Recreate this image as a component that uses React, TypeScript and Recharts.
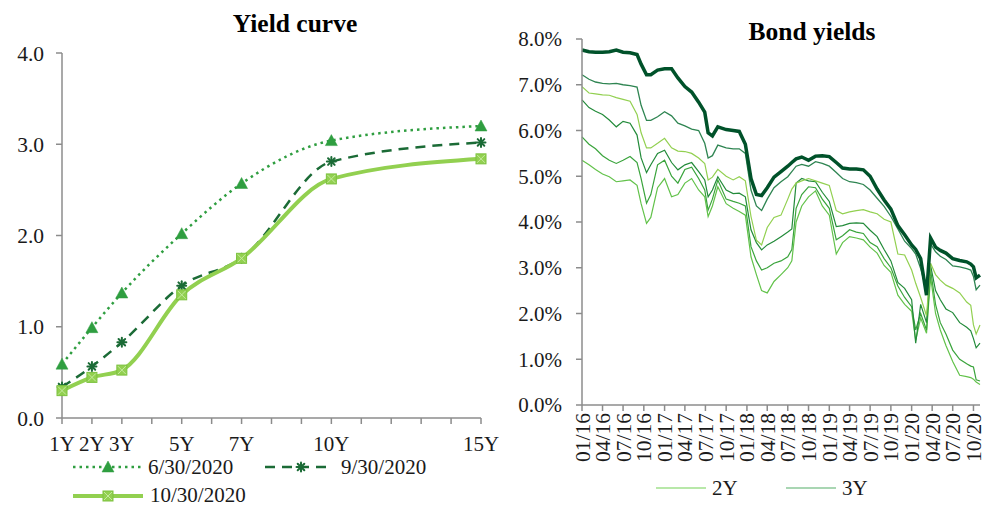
import React from 'react';
import { LineChart, Line, XAxis, YAxis } from 'recharts';

const FONT = '"Liberation Serif", "Times New Roman", serif';
const AXIS = '#8c8c8c';
const TXT = '#1a1a1a';
const FS = 21;

// ---------- Left chart: yield curve ----------
const tenors = [1, 2, 3, 5, 7, 10, 15];
const tenorLabels = ['1Y', '2Y', '3Y', '5Y', '7Y', '10Y', '15Y'];
const tenorTickYears = [1, 2, 3, 4, 5, 6, 7, 8, 9, 10, 11, 12, 13, 14, 15];
const curveJun = [0.59, 0.99, 1.37, 2.02, 2.57, 3.04, 3.2];
const curveSep = [0.34, 0.565, 0.83, 1.45, 1.75, 2.81, 3.02];
const curveOct = [0.3, 0.445, 0.525, 1.35, 1.75, 2.62, 2.84];
const curveNames = ['6/30/2020', '9/30/2020', '10/30/2020'];
const curveTicks = [0, 1, 2, 3, 4];

// ---------- Right chart: bond yields ----------
const dates = [
  '2016-01-01', '2016-02-01', '2016-03-01', '2016-04-01', '2016-05-01', '2016-06-01', '2016-07-01', '2016-08-01', '2016-09-01',
  '2016-09-19', '2016-10-13',
  '2016-11-01', '2016-12-01', '2017-01-01', '2017-02-01', '2017-03-01', '2017-04-01', '2017-05-01', '2017-06-01',
  '2017-06-28', '2017-07-13',
  '2017-08-01', '2017-08-25',
  '2017-10-01', '2017-11-01', '2017-11-28', '2017-12-25',
  '2018-01-19', '2018-02-12', '2018-03-07',
  '2018-04-01', '2018-05-01', '2018-06-01', '2018-07-01',
  '2018-07-19', '2018-08-07',
  '2018-09-01', '2018-10-01', '2018-11-01', '2018-12-01', '2019-01-01', '2019-02-01', '2019-03-01', '2019-04-01', '2019-05-01',
  '2019-06-01', '2019-07-01', '2019-08-01', '2019-09-01', '2019-10-01', '2019-11-01', '2019-12-01', '2020-01-01',
  '2020-01-19', '2020-02-10', '2020-03-07', '2020-03-25', '2020-04-16', '2020-05-07',
  '2020-06-01', '2020-07-01', '2020-08-01', '2020-09-01',
  '2020-09-19', '2020-10-01', '2020-10-13', '2020-10-30',
];
const y15 = [7.76, 7.72, 7.71, 7.71, 7.72, 7.76, 7.71, 7.7, 7.66, 7.45, 7.22, 7.22, 7.32, 7.35, 7.35, 7.15, 6.96, 6.84, 6.62, 6.4, 5.95, 5.88, 6.08, 6.02, 6.0, 5.98, 5.7, 4.95, 4.6, 4.58, 4.75, 4.98, 5.1, 5.22, 5.3, 5.38, 5.42, 5.35, 5.44, 5.45, 5.43, 5.3, 5.18, 5.16, 5.16, 5.14, 5.0, 4.72, 4.48, 4.28, 3.92, 3.72, 3.5, 3.4, 3.2, 2.4, 3.65, 3.45, 3.38, 3.32, 3.2, 3.16, 3.13, 3.08, 3.02, 2.78, 2.84];
const y10 = [7.22, 7.12, 7.06, 7.03, 7.02, 7.03, 7.0, 6.98, 6.95, 6.55, 6.22, 6.22, 6.3, 6.41, 6.32, 6.16, 6.1, 6.03, 6.0, 5.72, 5.4, 5.45, 5.68, 5.62, 5.6, 5.6, 5.5, 4.7, 4.35, 4.25, 4.5, 4.75, 4.88, 4.99, 5.1, 5.22, 5.26, 5.22, 5.32, 5.28, 5.22, 5.08, 4.95, 4.88, 4.86, 4.82, 4.7, 4.52, 4.34, 4.12, 3.85, 3.58, 3.42, 3.3, 2.98, 2.5, 3.52, 3.35, 3.25, 3.18, 3.04, 3.02, 2.98, 2.95, 2.81, 2.52, 2.62];
const y7 = [6.96, 6.82, 6.8, 6.78, 6.77, 6.72, 6.68, 6.64, 6.35, 5.95, 5.62, 5.62, 5.72, 5.83, 5.62, 5.55, 5.54, 5.5, 5.4, 5.28, 4.92, 4.98, 5.15, 5.0, 4.92, 4.99, 4.9, 4.12, 3.6, 3.5, 3.88, 4.1, 4.15, 4.5, 4.72, 4.85, 4.9, 4.95, 4.9, 4.85, 4.8, 4.25, 4.18, 4.22, 4.25, 4.27, 4.22, 4.18, 4.06, 4.0, 3.3, 3.28, 2.95, 2.66, 2.35, 1.95, 3.1, 2.85, 2.73, 2.62, 2.55, 2.45, 2.25, 2.18, 1.75, 1.55, 1.75];
const y5 = [6.67, 6.5, 6.42, 6.35, 6.23, 6.08, 6.2, 6.16, 5.9, 5.4, 5.08, 5.25, 5.5, 5.57, 5.3, 5.14, 5.25, 5.3, 5.1, 4.92, 4.55, 4.7, 4.99, 4.7, 4.62, 4.63, 4.55, 3.83, 3.55, 3.39, 3.5, 3.58, 3.68, 3.78, 3.85, 4.85, 4.95, 4.9, 4.88, 4.65, 4.45, 3.9, 3.92, 3.97, 3.98, 3.97, 3.82, 3.68, 3.4, 3.15, 2.68, 2.55, 2.3, 1.35, 2.2, 1.8, 3.05, 2.5, 2.3, 2.1, 2.02, 1.8, 1.7, 1.62, 1.45, 1.25, 1.35];
const y3 = [5.86, 5.7, 5.6, 5.45, 5.35, 5.28, 5.35, 5.43, 5.3, 4.95, 4.41, 4.6, 5.25, 5.35, 5.0, 4.85, 5.15, 5.2, 4.95, 4.7, 4.26, 4.5, 4.92, 4.5, 4.45, 4.41, 4.35, 3.46, 3.15, 2.95, 3.0, 3.1, 3.15, 3.24, 3.4, 4.3, 4.6, 4.77, 4.75, 4.5, 4.3, 3.61, 3.7, 3.83, 3.78, 3.75, 3.55, 3.46, 3.2, 3.0, 2.6, 2.35, 2.15, 1.64, 2.0, 1.64, 2.95, 2.2, 1.8, 1.55, 1.2, 1.0, 0.9, 0.85, 0.83, 0.55, 0.525];
const y2 = [5.35, 5.25, 5.15, 5.05, 4.99, 4.88, 4.9, 4.92, 4.8, 4.4, 3.97, 4.1, 4.75, 4.95, 4.55, 4.6, 4.85, 4.95, 4.7, 4.55, 4.12, 4.35, 4.77, 4.4, 4.3, 4.23, 4.15, 3.24, 2.85, 2.5, 2.45, 2.7, 2.85, 3.0, 3.15, 4.0, 4.35, 4.55, 4.68, 4.35, 4.15, 3.3, 3.55, 3.68, 3.65, 3.61, 3.45, 3.32, 3.05, 2.9, 2.4, 2.2, 2.05, 1.42, 1.9, 1.57, 2.8, 2.0, 1.64, 1.3, 0.95, 0.65, 0.62, 0.6, 0.565, 0.5, 0.45];
const quarterTicks = [
  '2016-01-01', '2016-04-01', '2016-07-01', '2016-10-01', '2017-01-01', '2017-04-01', '2017-07-01', '2017-10-01',
  '2018-01-01', '2018-04-01', '2018-07-01', '2018-10-01', '2019-01-01', '2019-04-01', '2019-07-01', '2019-10-01',
  '2020-01-01', '2020-04-01', '2020-07-01', '2020-10-01',
];
const yieldTicks = [0, 1, 2, 3, 4, 5, 6, 7, 8];
const legendNames = ['2Y', '3Y'];

const toTs = (s: string) => {
  const [y, m, d] = s.split('-').map(Number);
  return Date.UTC(y, m - 1, d);
};

const curveData = tenors.map((t, i) => ({ tenor: t, jun: curveJun[i], sep: curveSep[i], oct: curveOct[i] }));
const yieldData = dates.map((d, i) => ({
  t: toTs(d), y2: y2[i], y3: y3[i], y5: y5[i], y7: y7[i], y10: y10[i], y15: y15[i],
}));
const quarterTs = quarterTicks.map(toTs);

const C_JUN = '#2f9e40';
const C_SEP = '#1b6b36';
const C_OCT = '#92d050';

const tri = (cx: number, cy: number, key?: any) => (
  <polygon key={key} points={`${cx},${cy - 6} ${cx - 6},${cy + 5} ${cx + 6},${cy + 5}`} fill={C_JUN} stroke={C_JUN} strokeWidth={0.5} />
);
const star = (cx: number, cy: number, key?: any) => (
  <g key={key} stroke={C_SEP} strokeWidth={2} strokeLinecap="round">
    <line x1={cx - 4.5} y1={cy} x2={cx + 4.5} y2={cy} />
    <line x1={cx} y1={cy - 4.5} x2={cx} y2={cy + 4.5} />
    <line x1={cx - 3.3} y1={cy - 3.3} x2={cx + 3.3} y2={cy + 3.3} />
    <line x1={cx - 3.3} y1={cy + 3.3} x2={cx + 3.3} y2={cy - 3.3} />
  </g>
);
const sq = (cx: number, cy: number, key?: any) => (
  <g key={key}>
    <rect x={cx - 5} y={cy - 5} width={10} height={10} fill={C_OCT} stroke="#7cc23e" strokeWidth={1} />
    <line x1={cx - 4} y1={cy - 4} x2={cx + 4} y2={cy + 4} stroke="#c4ea9e" strokeWidth={1} />
    <line x1={cx - 4} y1={cy + 4} x2={cx + 4} y2={cy - 4} stroke="#c4ea9e" strokeWidth={1} />
  </g>
);

const TenorTick = (props: any) => {
  const { x, y, payload } = props;
  const idx = tenors.indexOf(payload.value);
  if (idx < 0) return <g />;
  return (
    <text x={x} y={y} dy="0.71em" textAnchor="middle" fontSize={FS} fontFamily={FONT} fill={TXT}>
      {tenorLabels[idx]}
    </text>
  );
};

const DateTick = (props: any) => {
  const { x, y, payload } = props;
  const d = new Date(payload.value);
  const label = String(d.getUTCMonth() + 1).padStart(2, '0') + '/' + String(d.getUTCFullYear() % 100).padStart(2, '0');
  return (
    <text x={x} y={y} transform={`rotate(-90 ${x} ${y})`} textAnchor="end" dy="0.35em" fontSize={21.5} fontFamily={FONT} fill={TXT}>
      {label}
    </text>
  );
};

export default function App() {
  return (
    <div style={{ position: 'fixed', left: 0, top: 0, width: 994, height: 506, background: '#fff', fontFamily: FONT }}>
      <div style={{ position: 'absolute', left: 0, top: 0 }}>
        <LineChart width={500} height={506} data={curveData} margin={{ top: 53, right: 19, bottom: 0, left: 2 }}>
          <XAxis
            dataKey="tenor"
            type="number"
            domain={[1, 15]}
            ticks={tenorTickYears}
            interval={0}
            height={88}
            tickSize={6}
            tickMargin={12}
            axisLine={{ stroke: AXIS, strokeWidth: 1.5 }}
            tickLine={{ stroke: AXIS, strokeWidth: 1.5 }}
            tick={<TenorTick />}
          />
          <YAxis
            type="number"
            domain={[0, 4]}
            ticks={curveTicks}
            width={60}
            tickSize={6}
            tickMargin={12}
            axisLine={{ stroke: AXIS, strokeWidth: 1.5 }}
            tickLine={{ stroke: AXIS, strokeWidth: 1.5 }}
            tickFormatter={(v: number) => v.toFixed(1)}
            tick={{ fill: TXT, fontSize: 21.5, fontFamily: FONT }}
          />
          <Line type="monotone" dataKey="jun" stroke={C_JUN} strokeWidth={2.5} strokeDasharray="2.5 4" isAnimationActive={false}
            dot={(p: any) => tri(p.cx, p.cy, p.key)} activeDot={false} />
          <Line type="monotone" dataKey="sep" stroke={C_SEP} strokeWidth={2.5} strokeDasharray="10 7" isAnimationActive={false}
            dot={(p: any) => star(p.cx, p.cy, p.key)} activeDot={false} />
          <Line type="monotone" dataKey="oct" stroke={C_OCT} strokeWidth={4} isAnimationActive={false}
            dot={(p: any) => sq(p.cx, p.cy, p.key)} activeDot={false} />
        </LineChart>
      </div>
      <div style={{ position: 'absolute', left: 500, top: 0 }}>
        <LineChart width={494} height={506} data={yieldData} margin={{ top: 39, right: 14, bottom: 0, left: 2 }}>
          <XAxis
            dataKey="t"
            type="number"
            scale="time"
            domain={['dataMin', 'dataMax']}
            ticks={quarterTs}
            interval={0}
            height={101}
            tickSize={6}
            tickMargin={2}
            axisLine={{ stroke: AXIS, strokeWidth: 1.5 }}
            tickLine={{ stroke: AXIS, strokeWidth: 1.5 }}
            tick={<DateTick />}
          />
          <YAxis
            type="number"
            domain={[0, 8]}
            ticks={yieldTicks}
            width={80}
            tickSize={6}
            tickMargin={14}
            axisLine={{ stroke: AXIS, strokeWidth: 1.5 }}
            tickLine={{ stroke: AXIS, strokeWidth: 1.5 }}
            tickFormatter={(v: number) => v.toFixed(1) + '%'}
            tick={{ fill: TXT, fontSize: FS, fontFamily: FONT }}
          />
          <Line type="linear" dataKey="y2" stroke="#62c24a" strokeWidth={1.2} dot={false} isAnimationActive={false} />
          <Line type="linear" dataKey="y3" stroke="#3aa43c" strokeWidth={1.2} dot={false} isAnimationActive={false} />
          <Line type="linear" dataKey="y5" stroke="#238b3a" strokeWidth={1.2} dot={false} isAnimationActive={false} />
          <Line type="linear" dataKey="y7" stroke="#92d050" strokeWidth={1.2} dot={false} isAnimationActive={false} />
          <Line type="linear" dataKey="y10" stroke="#2f8552" strokeWidth={1.3} dot={false} isAnimationActive={false} />
          <Line type="linear" dataKey="y15" stroke="#00522a" strokeWidth={3.5} dot={false} isAnimationActive={false} />
        </LineChart>
      </div>
      <svg width={994} height={506} style={{ position: 'absolute', left: 0, top: 0, pointerEvents: 'none' }}>
        <text x={295} y={32} textAnchor="middle" fontSize={25.5} fontWeight="bold" fontFamily={FONT} fill="#000">Yield curve</text>
        <text x={812} y={40} textAnchor="middle" fontSize={25.5} fontWeight="bold" fontFamily={FONT} fill="#000">Bond yields</text>

        {/* left legend */}
        <line x1={73} y1={467} x2={143} y2={467} stroke={C_JUN} strokeWidth={2.5} strokeDasharray="2.5 4" />
        {tri(108, 467)}
        <text x={148} y={474} fontSize={FS} fontFamily={FONT} fill={TXT}>{curveNames[0]}</text>
        <line x1={265} y1={467} x2={331} y2={467} stroke={C_SEP} strokeWidth={2.5} strokeDasharray="10 7" />
        {star(301, 467)}
        <text x={341} y={474} fontSize={FS} fontFamily={FONT} fill={TXT}>{curveNames[1]}</text>
        <line x1={73} y1={496} x2={143} y2={496} stroke={C_OCT} strokeWidth={4} />
        {sq(108, 496)}
        <text x={150} y={502} fontSize={FS} fontFamily={FONT} fill={TXT}>{curveNames[2]}</text>

        {/* right legend */}
        <line x1={656} y1={488} x2={706} y2={488} stroke="#a0e08c" strokeWidth={1.5} />
        <text x={712} y={495} fontSize={FS} fontFamily={FONT} fill={TXT}>{legendNames[0]}</text>
        <line x1={786} y1={488} x2={836} y2={488} stroke="#8cc99a" strokeWidth={1.5} />
        <text x={842} y={495} fontSize={FS} fontFamily={FONT} fill={TXT}>{legendNames[1]}</text>
      </svg>
    </div>
  );
}
